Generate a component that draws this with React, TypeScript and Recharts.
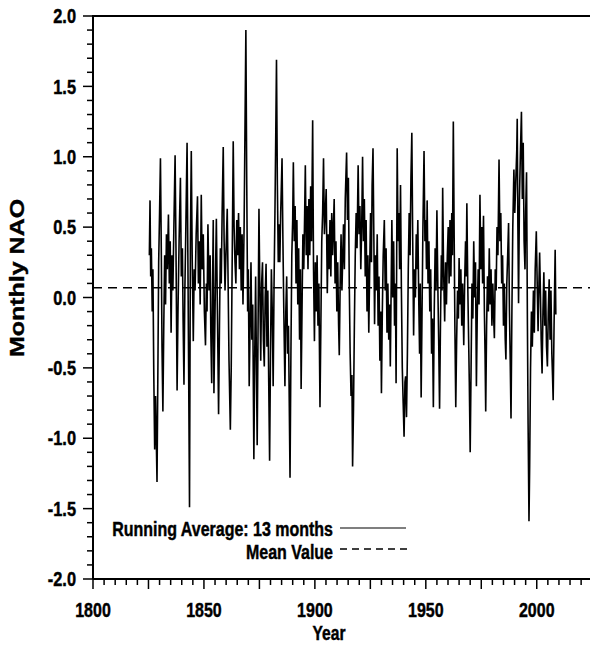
import React from "react";
import { LineChart, Line, XAxis, YAxis, ReferenceLine } from "recharts";

// 13-month running average of the monthly NAO index, as [year, value] pairs.
const nao1825: [number, number][] = [
  [1825.4, 0.3], [1825.7, 0.69], [1826.0, 0.15], [1826.3, 0.35], [1826.7, -0.1], [1827.0, 0.2],
  [1827.4, -0.55], [1827.8, -1.08], [1828.2, -0.7], [1828.85, -1.31], [1829.3, -0.4], [1829.6, 0.25],
  [1830.0, 0.6], [1830.4, 0.99], [1830.8, 0.3], [1831.1, -0.35], [1831.5, -0.81], [1831.9, -0.2],
  [1832.3, 0.3], [1832.7, -0.05], [1833.1, 0.45], [1833.5, 0.2], [1834.0, 0.59], [1834.4, 0.1],
  [1834.8, 0.4], [1835.2, -0.25], [1835.6, 0.3], [1836.0, 0.05], [1836.5, 0.55], [1837.0, 1.01],
  [1837.4, 0.35], [1837.9, -0.66], [1838.3, -0.1], [1838.8, 0.4], [1839.4, 0.85], [1839.8, 0.15],
  [1840.3, 0.35], [1840.6, -0.15], [1841.0, -0.62], [1841.4, 0.05], [1841.8, 0.45], [1842.4, 1.1],
  [1842.8, 0.2], [1843.1, -0.5], [1843.5, -1.49], [1843.9, 0.4], [1844.3, 1.04], [1844.7, 0.3],
  [1845.2, -0.31], [1845.6, 0.2], [1846.0, 0.05], [1846.5, 0.45], [1847.1, 0.72], [1847.5, 0.1],
  [1847.9, 0.4], [1848.3, -0.05], [1848.8, 0.73], [1849.2, 0.2], [1849.7, 0.45],
];

const nao1850: [number, number][] = [
  [1850.2, -0.1], [1850.7, -0.34], [1851.1, 0.1], [1851.4, -0.1], [1851.8, 0.52], [1852.3, 0.05],
  [1852.8, 0.3], [1853.1, -0.25], [1853.5, -0.61], [1853.9, 0.1], [1854.2, 0.55], [1854.5, -0.68],
  [1855.0, -0.1], [1855.3, 0.25], [1855.6, 0.56], [1856.0, 0.0], [1856.3, -0.4], [1856.6, -0.83],
  [1857.0, -0.2], [1857.4, 0.35], [1857.8, 0.1], [1858.2, 0.6], [1858.7, 1.07], [1859.1, 0.4],
  [1859.5, 0.05], [1860.0, 0.35], [1860.5, 0.63], [1860.9, 0.1], [1861.3, -0.45], [1861.9, -0.94],
  [1862.3, -0.5], [1862.7, 0.2], [1863.2, 1.11], [1863.6, 0.5], [1864.0, 0.25], [1864.4, 0.1],
  [1864.8, 0.55], [1865.2, 0.3], [1865.6, 0.6], [1866.0, 0.2], [1866.4, 0.5], [1866.8, 0.05],
  [1867.2, 0.45], [1867.6, -0.05], [1868.1, 0.5], [1868.5, 1.2], [1868.9, 1.9], [1869.3, 0.8],
  [1869.7, -0.1], [1870.0, 0.2], [1870.4, -0.63], [1870.8, -0.2], [1871.2, 0.25], [1871.6, -0.3],
  [1872.0, -0.05], [1872.5, -1.15], [1872.9, -0.4], [1873.3, 0.15], [1873.7, -0.55], [1874.0, -1.05],
  [1874.4, -0.2], [1874.8, 0.63],
];

const nao1875: [number, number][] = [
  [1875.2, 0.05], [1875.6, -0.45], [1876.0, 0.1], [1876.4, 0.25], [1876.8, -0.3], [1877.2, -0.49],
  [1877.6, 0.0], [1878.0, 0.24], [1878.4, -0.35], [1878.8, 0.05], [1879.2, -0.6], [1879.6, -1.16],
  [1880.0, -0.4], [1880.4, 0.2], [1880.8, -0.1], [1881.2, -0.63], [1881.6, 0.1], [1882.0, 0.6],
  [1882.4, 1.2], [1882.7, 1.69], [1883.1, 0.8], [1883.5, 0.25], [1883.8, 0.52], [1884.2, 0.25],
  [1884.6, 0.6], [1885.2, 0.99], [1885.6, 0.4], [1886.0, -0.1], [1886.5, -0.63], [1886.9, -0.1],
  [1887.3, 0.15], [1887.7, -0.4], [1888.1, -0.2], [1888.8, -1.28], [1889.2, -0.4], [1889.6, 0.3],
  [1890.0, 0.55], [1890.3, 0.96], [1890.7, 0.4], [1891.1, 0.65], [1891.5, 0.1], [1891.9, 0.55],
  [1892.3, -0.05], [1892.7, 0.35], [1893.1, -0.3], [1893.5, 0.2], [1893.8, -0.65], [1894.2, -0.1],
  [1894.6, 0.45], [1895.0, 0.2], [1895.4, 0.6], [1895.7, 0.94], [1896.1, 0.3], [1896.5, 0.65],
  [1896.9, 0.2], [1897.3, 0.7], [1897.7, 0.3], [1898.1, 0.79], [1898.5, 0.4], [1899.0, 1.26],
  [1899.4, 0.2], [1899.8, -0.31],
];

const nao1900: [number, number][] = [
  [1900.2, 0.25], [1900.6, -0.1], [1901.0, 0.3], [1901.4, -0.2], [1901.8, 0.1], [1902.3, -0.78],
  [1902.7, -0.2], [1903.1, 0.4], [1903.5, 0.6], [1903.9, 0.99], [1904.3, 0.45], [1904.7, 0.6],
  [1905.1, 0.77], [1905.6, 0.03], [1906.0, 0.45], [1906.4, 0.2], [1906.8, 0.55], [1907.2, 0.15],
  [1907.6, 0.6], [1908.0, 0.3], [1908.7, 0.7], [1909.1, 0.1], [1909.5, 0.4], [1909.9, -0.1],
  [1910.3, 0.25], [1910.7, -0.2], [1911.0, -0.41], [1911.4, 0.1], [1911.8, 0.45], [1912.2, 0.05],
  [1912.9, 0.52], [1913.3, 0.2], [1913.7, 0.7], [1914.3, 1.03], [1914.7, 0.55], [1915.1, 0.85],
  [1915.5, 0.1], [1915.9, -0.4], [1916.3, -0.7], [1916.7, -0.55], [1917.0, -1.2], [1917.4, -0.8],
  [1917.8, -0.2], [1918.2, 0.3], [1918.6, 0.6], [1919.0, 0.35], [1919.5, 0.94], [1919.9, 0.45],
  [1920.3, 0.65], [1920.7, 0.2], [1921.1, 0.5], [1921.5, 1.0], [1921.9, 0.4], [1922.3, 0.7],
  [1922.7, 0.15], [1923.1, 0.55], [1923.5, -0.1], [1923.9, 0.3], [1924.3, -0.25], [1924.7, 0.2],
];

const nao1925: [number, number][] = [
  [1925.1, 0.6], [1925.5, 0.25], [1925.8, 0.8], [1926.2, 1.06], [1926.6, 0.4], [1926.9, -0.19],
  [1927.3, 0.3], [1927.7, 0.05], [1928.1, 0.45], [1928.5, -0.2], [1928.9, 0.15], [1929.3, -0.45],
  [1929.7, -0.1], [1930.0, -0.68], [1930.4, -0.1], [1930.8, 0.3], [1931.3, 0.55], [1931.7, 0.05],
  [1932.1, 0.35], [1932.5, -0.25], [1932.9, 0.1], [1933.3, -0.3], [1933.7, -0.05], [1934.0, -0.49],
  [1934.4, 0.1], [1934.7, 0.55], [1935.1, 0.0], [1935.5, 0.4], [1935.9, -0.2], [1936.3, 0.1],
  [1936.6, -0.61], [1937.1, 1.06], [1937.5, 0.4], [1937.9, 0.6], [1938.2, 0.2], [1938.6, 0.8],
  [1939.0, 0.05], [1939.4, -0.5], [1939.8, -0.75], [1940.2, -0.99], [1940.6, -0.6], [1940.9, -0.56],
  [1941.3, -0.85], [1941.7, -0.4], [1942.1, 0.2], [1942.5, 0.6], [1942.9, 0.3], [1943.3, 0.85],
  [1943.7, 1.17], [1944.1, 0.4], [1944.5, -0.27], [1944.9, 0.2], [1945.3, 0.0], [1945.7, 0.45],
  [1946.0, 0.2], [1946.4, 0.55], [1946.8, 0.0], [1947.2, -0.4], [1947.5, 0.1], [1947.9, -0.71],
  [1948.3, -0.1], [1948.7, 0.5], [1949.2, 1.04], [1949.6, 0.4], [1950.0, 0.55],
];

const nao1950: [number, number][] = [
  [1950.3, 0.2], [1950.6, 0.69], [1951.0, 0.1], [1951.4, 0.4], [1951.8, -0.1], [1952.2, 0.2],
  [1952.6, -0.4], [1953.0, -0.15], [1953.4, -0.78], [1953.8, -0.1], [1954.2, 0.35], [1954.6, 0.05],
  [1955.0, 0.62], [1955.4, 0.1], [1955.8, -0.3], [1956.2, -0.79], [1956.6, -0.2], [1957.0, 0.3],
  [1957.3, 0.05], [1957.6, 0.78], [1958.0, 0.2], [1958.5, -0.17], [1958.9, 0.25], [1959.3, -0.05],
  [1959.7, 0.3], [1960.1, 0.5], [1960.5, 0.1], [1960.9, 0.55], [1961.3, 0.15], [1961.7, 0.6],
  [1962.0, 0.3], [1962.4, 1.25], [1962.8, 0.4], [1963.1, -0.2], [1963.5, -0.78], [1963.9, -0.3],
  [1964.3, 0.05], [1964.7, -0.15], [1965.0, 0.28], [1965.4, -0.05], [1965.8, 0.2], [1966.2, -0.2],
  [1966.6, 0.1], [1967.1, -0.34], [1967.5, 0.1], [1967.9, 0.4], [1968.2, 0.15], [1968.5, 0.67],
  [1968.9, 0.1], [1969.3, -0.3], [1969.6, -0.6], [1970.0, -1.1], [1970.4, -0.5], [1970.8, 0.1],
  [1971.2, -0.15], [1971.6, 0.4], [1972.0, 0.0], [1972.4, 0.25], [1972.8, -0.63], [1973.2, -0.1],
  [1973.6, 0.2], [1974.0, -0.05], [1974.4, 0.73], [1974.8, 0.2],
];

const nao1975: [number, number][] = [
  [1975.2, 0.5], [1975.6, 0.1], [1976.0, 0.58], [1976.4, -0.1], [1976.7, -0.4], [1977.0, -0.81],
  [1977.4, -0.2], [1977.8, 0.15], [1978.2, -0.1], [1978.6, 0.35], [1979.0, -0.05], [1979.4, 0.2],
  [1979.8, -0.2], [1980.2, 0.1], [1980.5, -0.1], [1980.9, -0.29], [1981.3, 0.2], [1981.7, 0.05],
  [1982.1, 0.5], [1982.5, 0.3], [1983.0, 0.98], [1983.4, 0.4], [1983.8, 0.6], [1984.2, 0.1],
  [1984.6, 0.3], [1985.0, -0.2], [1985.4, 0.1], [1985.8, -0.3], [1986.1, -0.44], [1986.5, 0.1],
  [1986.9, 0.3], [1987.3, 0.53], [1987.7, -0.1], [1988.0, -0.4], [1988.4, -0.86], [1988.8, -0.1],
  [1989.2, 0.5], [1989.7, 0.91], [1990.1, 0.6], [1990.5, 0.8], [1991.0, 1.05], [1991.2, 1.27],
  [1991.5, 0.5], [1991.8, -0.04], [1992.2, 0.7], [1992.6, 1.0], [1993.1, 1.32], [1993.5, 0.7],
  [1993.9, 1.1], [1994.3, 0.4], [1994.7, 0.2], [1995.0, 0.6], [1995.4, 0.89], [1995.8, -0.2],
  [1996.1, -0.9], [1996.5, -1.59], [1996.8, -1.2], [1997.2, -0.5], [1997.6, -0.1], [1998.0, -0.35],
  [1998.5, 0.05], [1998.9, -0.25], [1999.3, 0.2], [1999.8, 0.47], [2000.2, 0.1], [2000.6, -0.24],
  [2001.0, 0.1], [2001.3, 0.32], [2001.7, 0.0], [2002.0, -0.3], [2002.4, -0.54], [2002.8, -0.1],
  [2003.2, 0.18], [2003.6, -0.2], [2004.0, 0.05], [2004.4, -0.35], [2004.8, -0.49], [2005.2, -0.1],
  [2005.6, 0.13], [2006.0, -0.3], [2006.4, 0.05], [2006.8, -0.4], [2007.1, -0.55], [2007.4, -0.73],
  [2007.8, -0.2], [2008.3, 0.34], [2008.6, -0.12],
];

const MEAN_NAO = 0.07;

// Axis ticks: minor every 5 years / 0.1, major every 25 years / 0.5
const yearTicks: number[] = Array.from({ length: 45 }, (_, i) => 1800 + i * 5);
const yearLabels: number[] = [1800, 1850, 1900, 1950, 2000];
const naoTicks: number[] = Array.from({ length: 41 }, (_, i) => (i - 20) / 10);

const data = [...nao1825, ...nao1850, ...nao1875, ...nao1900, ...nao1925, ...nao1950, ...nao1975].map(
  ([year, nao]) => ({ year, nao })
);

const W = 590;
const H = 646;
const PLOT_LEFT = 93;
const PLOT_TOP = 16;
const PLOT_BOTTOM = 579;
const FONT = "'Liberation Sans', Arial, Helvetica, sans-serif";
const SQUEEZE = 0.78;

// Bold, horizontally condensed text used for every label in the chart
const Label = ({ x, y, size, anchor = "middle", rotate = 0, children }: any) => (
  <text
    transform={`translate(${x},${y}) scale(${SQUEEZE},1)${rotate ? ` rotate(${rotate})` : ""}`}
    textAnchor={anchor}
    dominantBaseline="central"
    fontFamily={FONT}
    fontWeight="bold"
    fontSize={size}
    fill="#000"
    stroke="#000"
    strokeWidth={0.45}
  >
    {children}
  </text>
);

const XTick = (props: any) => {
  const { x, payload } = props;
  const v = Math.round(payload.value);
  const major = v % 25 === 0;
  return (
    <g>
      <line x1={x} x2={x} y1={PLOT_BOTTOM} y2={PLOT_BOTTOM + (major ? 10 : 6)} stroke="#000" strokeWidth={1.5} />
      {yearLabels.includes(v) && (
        <Label x={x} y={610} size={20.5}>
          {v}
        </Label>
      )}
    </g>
  );
};

const YTick = (props: any) => {
  const { y, payload } = props;
  const tenths = Math.round(payload.value * 10);
  const major = tenths % 5 === 0;
  return (
    <g>
      <line x1={PLOT_LEFT - (major ? 10 : 6)} x2={PLOT_LEFT} y1={y} y2={y} stroke="#000" strokeWidth={1.5} />
      {major && (
        <Label x={76} y={y} size={21} anchor="end">
          {(tenths / 10).toFixed(1)}
        </Label>
      )}
    </g>
  );
};

export default function App() {
  return (
    <div style={{ position: "absolute", left: 0, top: 0, width: W, height: H, background: "#fff" }}>
      <LineChart width={W} height={H} data={data} margin={{ top: PLOT_TOP, right: 0, bottom: 0, left: 0 }}>
        <XAxis
          dataKey="year"
          type="number"
          domain={[1800, 2024]}
          ticks={yearTicks}
          interval={0}
          height={H - PLOT_BOTTOM}
          tickLine={false}
          axisLine={{ stroke: "#000", strokeWidth: 2 }}
          tick={<XTick />}
        />
        <YAxis
          type="number"
          domain={[-2, 2]}
          ticks={naoTicks}
          interval={0}
          width={PLOT_LEFT}
          tickLine={false}
          axisLine={{ stroke: "#000", strokeWidth: 2 }}
          tick={<YTick />}
        />
        <Line
          dataKey="nao"
          type="linear"
          stroke="#000"
          strokeWidth={1.6}
          dot={false}
          isAnimationActive={false}
        />
        <ReferenceLine y={MEAN_NAO} stroke="#000" strokeWidth={1.5} strokeDasharray="9 6" />
      </LineChart>
      <svg width={W} height={H} style={{ position: "absolute", left: 0, top: 0, pointerEvents: "none" }}>
        <line x1={PLOT_LEFT - 1} x2={W} y1={PLOT_TOP} y2={PLOT_TOP} stroke="#000" strokeWidth={2} />
        <Label x={17} y={278} size={25} rotate={-90}>
          Monthly NAO
        </Label>
        <Label x={329} y={633.5} size={20}>
          Year
        </Label>
        <Label x={333} y={529} size={20.5} anchor="end">
          Running Average: 13 months
        </Label>
        <line x1={340} x2={406} y1={528} y2={528} stroke="#000" strokeWidth={1.2} />
        <Label x={333} y={552} size={20.5} anchor="end">
          Mean Value
        </Label>
        <line x1={340} x2={407} y1={549} y2={549} stroke="#000" strokeWidth={1.5} strokeDasharray="7 5" />
      </svg>
    </div>
  );
}
